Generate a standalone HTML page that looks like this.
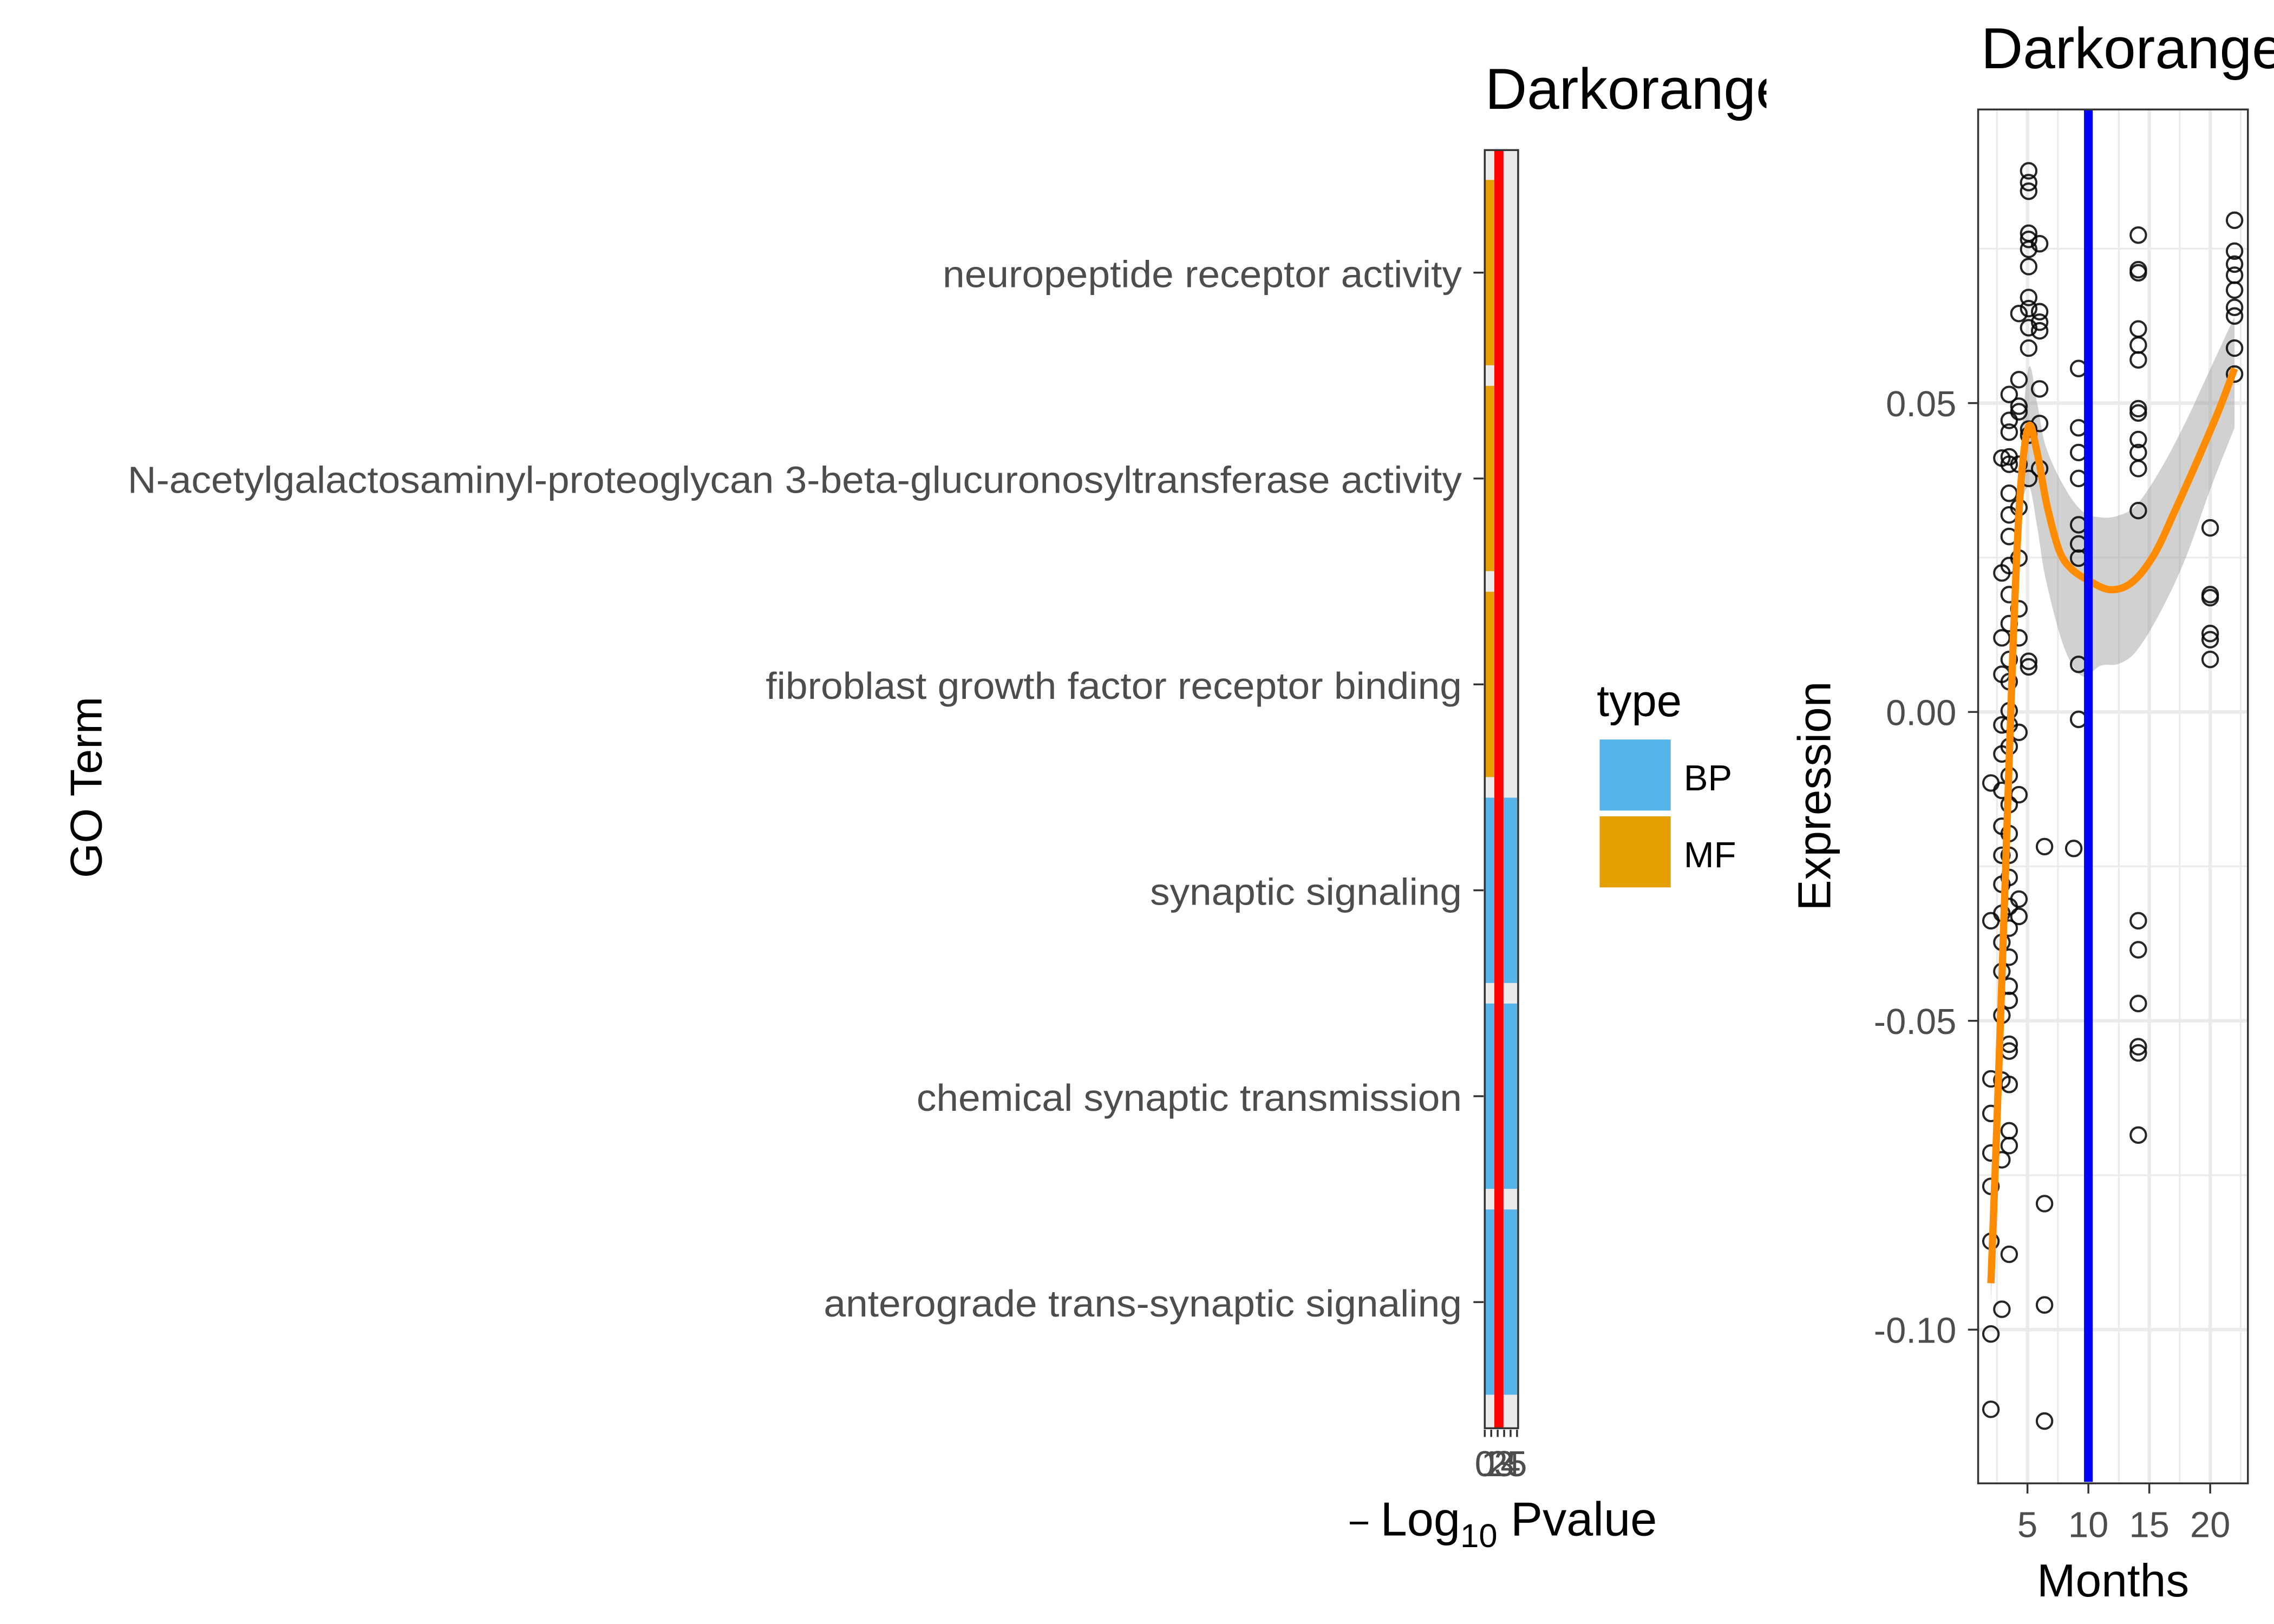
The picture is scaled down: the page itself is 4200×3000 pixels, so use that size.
<!DOCTYPE html>
<html><head><meta charset="utf-8"><title>Darkorange module</title>
<style>html,body{margin:0;padding:0;background:#fff}svg{display:block}text{font-family:"Liberation Sans",Arial,sans-serif}</style>
</head><body>
<svg id="fig" xmlns="http://www.w3.org/2000/svg" width="4200" height="3000" viewBox="0 0 1568 1120">
<defs>
<clipPath id="clipL"><rect x="0" y="0" width="1218" height="120"/></clipPath>
<clipPath id="clipR"><rect x="1364" y="76" width="186" height="946"/></clipPath>
</defs>
<rect x="0" y="0" width="1568" height="1120" fill="#fff"/>
<g id="left"></g>
<g id="right"></g>
</svg>
<script>
// ---------- GO bar chart data ----------
const goTerms = ["neuropeptide receptor activity","N-acetylgalactosaminyl-proteoglycan 3-beta-glucuronosyltransferase activity","fibroblast growth factor receptor binding","synaptic signaling","chemical synaptic transmission","anterograde trans-synaptic signaling"];
const goTypes = ["MF","MF","MF","BP","BP","BP"];
const goValues = [1.48,1.48,1.48,5.0,5.0,5.0];
const goThreshold = [2.19];
const goTicks = [0,1,2,3,4,5];
const typeNames = ["BP","MF"];

// ---------- Scatter data ----------
const months = [5.1,5.1,5.1,5.1,5.1,5.1,5.1,5.1,5.1,5.1,5.1,5.1,5.1,5.1,5.1,5.1,
 6,6,6,6,6,6,6,6.4,6.4,6.4,6.4,
 4.3,4.3,4.3,4.3,4.3,4.3,4.3,4.3,4.3,4.3,4.3,4.3,4.3,
 3.5,3.5,3.5,3.5,3.5,3.5,3.5,3.5,3.5,3.5,3.5,3.5,3.5,3.5,3.5,3.5,3.5,3.5,3.5,3.5,3.5,3.5,3.5,3.5,3.5,3.5,3.5,3.5,3.5,3.5,3.5,3.5,
 2.9,2.9,2.9,2.9,2.9,2.9,2.9,2.9,2.9,2.9,2.9,2.9,2.9,2.9,2.9,2.9,2.9,
 2,2,2,2,2,2,2,2,2,
 9.2,9.2,9.2,9.2,9.2,9.2,9.2,9.2,9.2,8.8,
 14.1,14.1,14.1,14.1,14.1,14.1,14.1,14.1,14.1,14.1,14.1,14.1,14.1,14.1,14.1,14.1,14.1,14.1,
 20,20,20,20,20,20,
 22,22,22,22,22,22,22,22,22];
const expression = [0.0876,0.0857,0.0843,0.0775,0.0765,0.0749,0.0721,0.0671,0.0653,0.0622,0.0589,0.0458,0.0448,0.0378,0.0073,0.0082,
 0.0758,0.0648,0.0631,0.0617,0.0523,0.0467,0.0394,-0.0218,-0.0796,-0.0960,-0.1148,
 0.0645,0.0538,0.0495,0.0486,0.0401,0.0331,0.0249,0.0167,0.0120,-0.0033,-0.0134,-0.0303,-0.0331,
 0.0514,0.0472,0.0453,0.0413,0.0401,0.0354,0.0319,0.0284,0.0237,0.0190,0.0143,0.0085,0.0049,0.0002,-0.0021,-0.0056,-0.0103,-0.0150,-0.0197,-0.0232,-0.0268,-0.0315,-0.0350,-0.0397,-0.0444,-0.0467,-0.0538,-0.0549,-0.0603,-0.0678,-0.0702,-0.0878,
 0.0411,0.0225,0.0120,0.0061,-0.0021,-0.0068,-0.0127,-0.0185,-0.0232,-0.0279,-0.0326,-0.0373,-0.0420,-0.0491,-0.0596,-0.0725,-0.0967,
 -0.0115,-0.0338,-0.0594,-0.0650,-0.0714,-0.0768,-0.0857,-0.1007,-0.1129,
 0.0556,0.0460,0.0420,0.0378,0.0303,0.0272,0.0249,0.0077,-0.0012,-0.0221,
 0.0772,0.0716,0.0711,0.0620,0.0594,0.0570,0.0491,0.0484,0.0441,0.0420,0.0394,0.0326,-0.0338,-0.0385,-0.0472,-0.0542,-0.0552,-0.0685,
 0.0298,0.0190,0.0185,0.0127,0.0117,0.0085,
 0.0796,0.0746,0.0725,0.0707,0.0683,0.0655,0.0641,0.0589,0.0547];
const smoothMonths = [2.0,2.6,3.2,3.8,4.4,5.1,5.8,6.6,7.6,8.6,10,11.8,13.6,15.4,17.1,18.9,20.7,22];
const smoothValues = [-0.0925,-0.0608,-0.0256,0.0096,0.0354,0.0462,0.042,0.0335,0.0262,0.0232,0.0213,0.0198,0.0210,0.0255,0.0325,0.0405,0.0488,0.0556];
const ribbonMonths = [2.0,2.6,3.2,3.8,4.4,5.1,5.8,6.5,8,9.5,11,12.5,14,16,18,20,22];
const ribbonUpper = [-0.089,-0.057,-0.022,0.014,0.041,0.0557,0.050,0.0430,0.0365,0.0325,0.0315,0.0318,0.0336,0.0395,0.047,0.0555,0.0640];
const ribbonLower = [-0.096,-0.064,-0.029,0.005,0.030,0.0365,0.030,0.0215,0.0105,0.0058,0.0075,0.0078,0.0100,0.0165,0.025,0.0360,0.0460];
const cutoffMonth = [10];
const xTicks = [5,10,15,20];
const xMinor = [2.5,7.5,12.5,17.5,22.5];
const yTicks = [0.05,0.00,-0.05,-0.10];
const yTickLabels = ["0.05","0.00","-0.05","-0.10"];
const yMinor = [0.075,0.025,-0.025,-0.075];

const NS = "http://www.w3.org/2000/svg";
function mk(tag, attrs, parent){ const e=document.createElementNS(NS,tag); for(const k in attrs) e.setAttribute(k,attrs[k]); parent.appendChild(e); return e; }
function smoothPath(pts){
  let d = 'M'+pts[0][0].toFixed(1)+','+pts[0][1].toFixed(1);
  for(let i=0;i<pts.length-1;i++){
    const p0=pts[Math.max(i-1,0)],p1=pts[i],p2=pts[i+1],p3=pts[Math.min(i+2,pts.length-1)];
    const c1=[p1[0]+(p2[0]-p0[0])/6,p1[1]+(p2[1]-p0[1])/6], c2=[p2[0]-(p3[0]-p1[0])/6,p2[1]-(p3[1]-p1[1])/6];
    d+='C'+c1[0].toFixed(1)+','+c1[1].toFixed(1)+' '+c2[0].toFixed(1)+','+c2[1].toFixed(1)+' '+p2[0].toFixed(1)+','+p2[1].toFixed(1);
  }
  return d;
}

// ===== Left chart =====
const L = document.getElementById('left');
const lx = v => 1023.8 + 4.45*v;
const band = 142, catY = i => 188 + i*band;
const typeColor = {BP:"#56B4E9", MF:"#E69F00"};
const labelWidths = [358,920,480,215,376,440];
let el;
el = mk('text',{x:1024,y:75,'font-size':40,fill:'#000','clip-path':'url(#clipL)'},L);
el.textContent = "Darkorange";


el = mk('rect',{x:1023.8,y:103,width:23.2,height:882,fill:'#ebebeb'},L);


goTerms.forEach((t,i)=>{
  const r = mk('rect',{x:lx(0),y:catY(i)-0.45*band,width:lx(goValues[i])-lx(0),height:0.9*band,fill:typeColor[goTypes[i]]},L);
  
  
  const tk = mk('line',{x1:1016,x2:1023,y1:catY(i),y2:catY(i),stroke:'#333','stroke-width':1.3},L);
  
  
  const lb = mk('text',{x:1008,y:catY(i)+10,'font-size':26,fill:'#4d4d4d','text-anchor':'end',textLength:labelWidths[i],lengthAdjust:'spacingAndGlyphs'},L);
  lb.textContent = t;
  
  
});
el = mk('line',{x1:lx(goThreshold[0]),x2:lx(goThreshold[0]),y1:103,y2:985,stroke:'#ff0000','stroke-width':6.3},L);


el = mk('rect',{x:1023.8,y:103.5,width:23,height:881.5,fill:'none',stroke:'#333','stroke-width':1.3},L);


goTicks.forEach(v=>{
  const tk = mk('line',{x1:lx(v),x2:lx(v),y1:986,y2:991,stroke:'#333','stroke-width':1.3},L);
  
  
  const lb = mk('text',{x:lx(v),y:1018,'font-size':25,fill:'#4d4d4d','text-anchor':'middle'},L);
  lb.textContent = String(v);
  
  
});
el = mk('text',{x:1036,y:1059,'font-size':33,fill:'#000','text-anchor':'middle'},L);
el.innerHTML = '<tspan font-size="26">− </tspan>Log<tspan font-size="23" dy="8">10</tspan><tspan dy="-8"> Pvalue</tspan>';


el = mk('text',{x:0,y:0,'font-size':31,fill:'#000','text-anchor':'middle',transform:'translate(70,543) rotate(-90)'},L);
el.textContent = "GO Term";


el = mk('text',{x:1101,y:494,'font-size':31,fill:'#000'},L);
el.textContent = "type";


typeNames.forEach((n,i)=>{
  const k = mk('rect',{x:1103,y:510+i*53,width:49,height:49,fill:typeColor[n]},L);
  
  
  const t = mk('text',{x:1161,y:545+i*53,'font-size':25,fill:'#000'},L);
  t.textContent = n;
  
  
});

// ===== Right chart =====
const R = document.getElementById('right');
const px = m => 1440 + 8.4*(m-10);
const py = v => 491 - 4260*v;
const P0=1364, P1=1550, T0=75.5, B0=1023;
el = mk('text',{x:1366,y:47,'font-size':40,fill:'#000'},R);
el.textContent = "Darkorange";


const g = mk('g',{'clip-path':'url(#clipR)'},R);
xMinor.forEach(m=>{ const l=mk('line',{x1:px(m),x2:px(m),y1:T0,y2:B0,stroke:'#ebebeb','stroke-width':1.2},g);
    });
yMinor.forEach(v=>{ const l=mk('line',{x1:P0,x2:P1,y1:py(v),y2:py(v),stroke:'#ebebeb','stroke-width':1.2},g);
    });
xTicks.forEach(m=>{ const l=mk('line',{x1:px(m),x2:px(m),y1:T0,y2:B0,stroke:'#ebebeb','stroke-width':2.4},g);
    });
yTicks.forEach(v=>{ const l=mk('line',{x1:P0,x2:P1,y1:py(v),y2:py(v),stroke:'#ebebeb','stroke-width':2.4},g);
    });
const up = ribbonMonths.map((m,i)=>[px(m),py(ribbonUpper[i])]);
const lo = ribbonMonths.map((m,i)=>[px(m),py(ribbonLower[i])]).reverse();
const loPath = smoothPath(lo).replace(/^M/,'L');
el = mk('path',{d:smoothPath(up)+loPath+'Z',fill:'#999','fill-opacity':0.45},g);


months.forEach((m,i)=>{
  const c = mk('circle',{cx:px(m),cy:py(expression[i]),r:5.3,fill:'none',stroke:'#000','stroke-opacity':0.85,'stroke-width':1.5},g);
  
  
});
el = mk('path',{d:smoothPath(smoothMonths.map((m,i)=>[px(m),py(smoothValues[i])])),fill:'none',stroke:'#ff8c00','stroke-width':5,'stroke-linejoin':'round'},g);


el = mk('line',{x1:px(cutoffMonth[0]),x2:px(cutoffMonth[0]),y1:T0,y2:B0,stroke:'#0000ff','stroke-width':6},g);


el = mk('rect',{x:P0,y:T0,width:P1-P0,height:B0-T0,fill:'none',stroke:'#333','stroke-width':1.3},R);


yTicks.forEach((v,i)=>{
  const tk = mk('line',{x1:1357,x2:1364,y1:py(v),y2:py(v),stroke:'#333','stroke-width':1.3},R);
  
  
  const lb = mk('text',{x:1349,y:py(v)+9,'font-size':25,fill:'#4d4d4d','text-anchor':'end'},R);
  lb.textContent = yTickLabels[i];
  
  
});
xTicks.forEach(m=>{
  const tk = mk('line',{x1:px(m),x2:px(m),y1:1023,y2:1030,stroke:'#333','stroke-width':1.3},R);
  
  
  const lb = mk('text',{x:px(m),y:1060,'font-size':25,fill:'#4d4d4d','text-anchor':'middle'},R);
  lb.textContent = String(m);
  
  
});
el = mk('text',{x:1457,y:1101,'font-size':32,fill:'#000','text-anchor':'middle'},R);
el.textContent = "Months";


el = mk('text',{x:0,y:0,'font-size':32,fill:'#000','text-anchor':'middle',transform:'translate(1262,549) rotate(-90)'},R);
el.textContent = "Expression";


</script>
</body></html>
